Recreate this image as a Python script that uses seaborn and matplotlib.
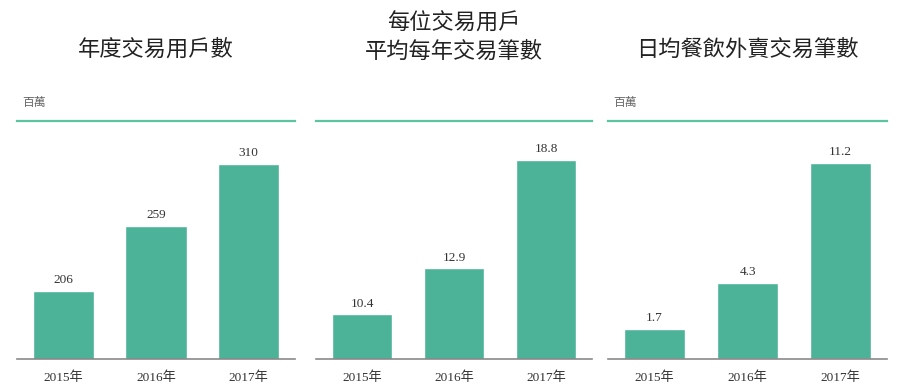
import matplotlib
matplotlib.use('Agg')
import matplotlib.pyplot as plt
import seaborn as sns

years = ['2015年', '2016年', '2017年']
users = [206, 259, 310]
tx_per_user = [10.4, 12.9, 18.8]
daily_tx = [1.7, 4.3, 11.2]
value_labels = [['206', '259', '310'], ['10.4', '12.9', '18.8'], ['1.7', '4.3', '11.2']]
titles = ['年度交易用戶數', '每位交易用戶\n平均每年交易筆數', '日均餐飲外賣交易筆數']
units = ['百萬', '', '百萬']
ylims = [(150, 346), (8.0, 20.95), (0, 13.6)]

sns.set_style('white')
plt.rcParams['font.family'] = ['Noto Sans CJK TC', 'DejaVu Sans']

BAR = '#4db398'
LINE = '#5cc4a0'
serif = ['Liberation Serif', 'Noto Sans CJK TC']

W, H = 899, 387
fig = plt.figure(figsize=(W / 100, H / 100), dpi=100)

panels = [(17, 278), (316, 276), (608, 279)]
top_px, base_px = 120.5, 358.5

for i, vals in enumerate([users, tx_per_user, daily_tx]):
    x0, w = panels[i]
    ax = fig.add_axes([x0 / W, (H - base_px) / H, w / W, (base_px - top_px) / H])
    sns.barplot(x=years, y=vals, color=BAR, saturation=1, width=0.66, ax=ax)
    ax.set_xlim(-0.5, 2.5)
    ax.set_ylim(*ylims[i])
    ax.set_yticks([])
    ax.set_xlabel('')
    ax.set_ylabel('')
    for s in ['left', 'right']:
        ax.spines[s].set_visible(False)
    ax.spines['top'].set_color(LINE)
    ax.spines['top'].set_linewidth(1.6)
    ax.spines['bottom'].set_color('#8a8a8a')
    ax.spines['bottom'].set_linewidth(1.2)
    ax.tick_params(axis='x', length=0, pad=9)
    for lab in ax.get_xticklabels():
        lab.set_family(serif)
        lab.set_fontsize(9.5)
        lab.set_color('#333333')
    for j, v in enumerate(vals):
        ax.annotate(value_labels[i][j], (j, v), xytext=(0, 3.5), textcoords='offset points',
                    ha='center', va='bottom', fontsize=9.5, color='#333333', family=serif)
    if units[i]:
        ax.text(0.02, 1.05, units[i], transform=ax.transAxes, ha='left', va='bottom',
                fontsize=8.5, color='#666666')
    cx = (x0 + w / 2) / W
    if '\n' in titles[i]:
        fig.text(cx, 1 - 37 / H, titles[i], ha='center', va='center', fontsize=16,
                 color='#222222', linespacing=1.3)
    else:
        fig.text(cx, 1 - 49 / H, titles[i], ha='center', va='center', fontsize=16,
                 color='#222222')

fig.savefig('out.png', dpi=100)
